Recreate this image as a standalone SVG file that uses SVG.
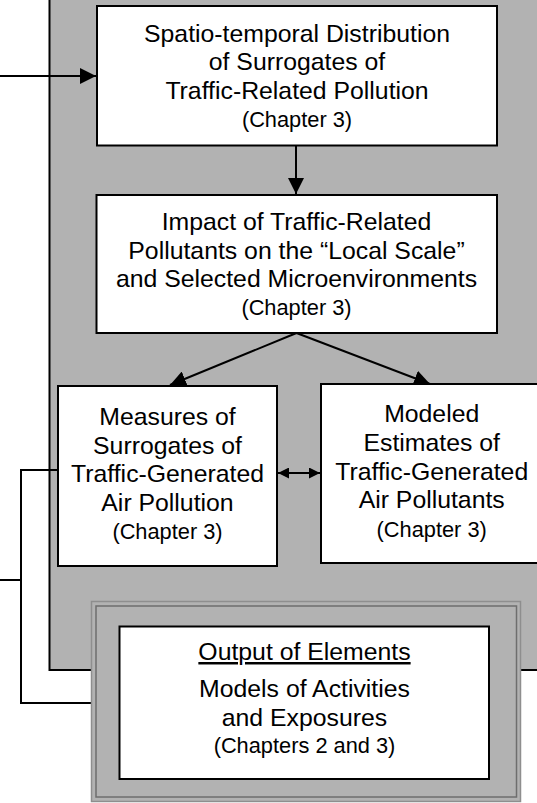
<svg xmlns="http://www.w3.org/2000/svg" width="537" height="803" viewBox="0 0 537 803">
<style>
.box{fill:#fff;stroke:#000;stroke-width:2}
.t{font-family:"Liberation Sans",Arial,Helvetica,sans-serif;font-size:24.8px;fill:#000;text-anchor:middle}
.c{font-size:21.8px}
.ln{fill:none;stroke:#000;stroke-width:2}
</style>
<defs>
<marker id="ah" markerUnits="userSpaceOnUse" markerWidth="16" markerHeight="16" refX="16" refY="8" orient="auto">
<path d="M0,0 L16,8 L0,16 z" fill="#000"/>
</marker>
<marker id="ahs" markerUnits="userSpaceOnUse" markerWidth="11" markerHeight="11" refX="11" refY="5.5" orient="auto-start-reverse">
<path d="M0,0 L11,5.5 L0,11 z" fill="#000"/>
</marker>
</defs>
<rect x="0" y="0" width="537" height="803" fill="#fff"/>
<g id="panel">
<rect x="49.5" y="-10" width="600" height="680" fill="#b2b2b2" stroke="#000" stroke-width="2"/>
</g>
<g id="connectors">
<line class="ln" x1="0" y1="76" x2="96" y2="76" marker-end="url(#ah)"/>
<line class="ln" x1="296" y1="146" x2="296" y2="194" marker-end="url(#ah)"/>
<line class="ln" x1="296.5" y1="333" x2="170" y2="385" marker-end="url(#ah)"/>
<line class="ln" x1="296.5" y1="333" x2="430" y2="384" marker-end="url(#ah)"/>
<line class="ln" x1="278" y1="473" x2="320" y2="473" marker-start="url(#ahs)" marker-end="url(#ahs)"/>
<polyline class="ln" points="58,470 21,470 21,703 92,703"/>
<line class="ln" x1="0" y1="580" x2="21" y2="580"/>
</g>
<g id="box1">
<rect class="box" x="97" y="6" width="400" height="139.5"/>
<text class="t" x="297" y="41.5">Spatio-temporal Distribution</text>
<text class="t" x="297" y="70">of Surrogates of</text>
<text class="t" x="297" y="98.5">Traffic-Related Pollution</text>
<text class="t c" x="297" y="126.7">(Chapter 3)</text>
</g>
<g id="box2">
<rect class="box" x="96.5" y="195" width="400.5" height="138"/>
<text class="t" x="296.5" y="230">Impact of Traffic-Related</text>
<text class="t" x="296.5" y="258.5">Pollutants on the “Local Scale”</text>
<text class="t" x="296.5" y="287">and Selected Microenvironments</text>
<text class="t c" x="296.5" y="315">(Chapter 3)</text>
</g>
<g id="box3">
<rect class="box" x="58" y="386" width="219" height="180"/>
<text class="t" x="167.5" y="425">Measures of</text>
<text class="t" x="167.5" y="453.5">Surrogates of</text>
<text class="t" x="167.5" y="482">Traffic-Generated</text>
<text class="t" x="167.5" y="510.5">Air Pollution</text>
<text class="t c" x="167.5" y="538.5">(Chapter 3)</text>
</g>
<g id="box4">
<rect class="box" x="321" y="384" width="222" height="179"/>
<text class="t" x="431.7" y="421.7">Modeled</text>
<text class="t" x="431.7" y="451">Estimates of</text>
<text class="t" x="431.7" y="480">Traffic-Generated</text>
<text class="t" x="431.7" y="508.3">Air Pollutants</text>
<text class="t c" x="431.7" y="536.7">(Chapter 3)</text>
</g>
<g id="output">
<rect x="91.5" y="601.5" width="429" height="200" fill="#b2b2b2" stroke="#8e8e8e" stroke-width="1.5"/>
<rect x="96" y="606" width="420.5" height="191" fill="none" stroke="#6e6e6e" stroke-width="1.5"/>
<rect class="box" x="119.5" y="626.5" width="369.5" height="152.5"/>
<text class="t" x="304.5" y="660" text-decoration="underline">Output of Elements</text>
<text class="t" x="304.5" y="697.3">Models of Activities</text>
<text class="t" x="304.5" y="726">and Exposures</text>
<text class="t c" x="304.5" y="752.7">(Chapters 2 and 3)</text>
</g>
</svg>
